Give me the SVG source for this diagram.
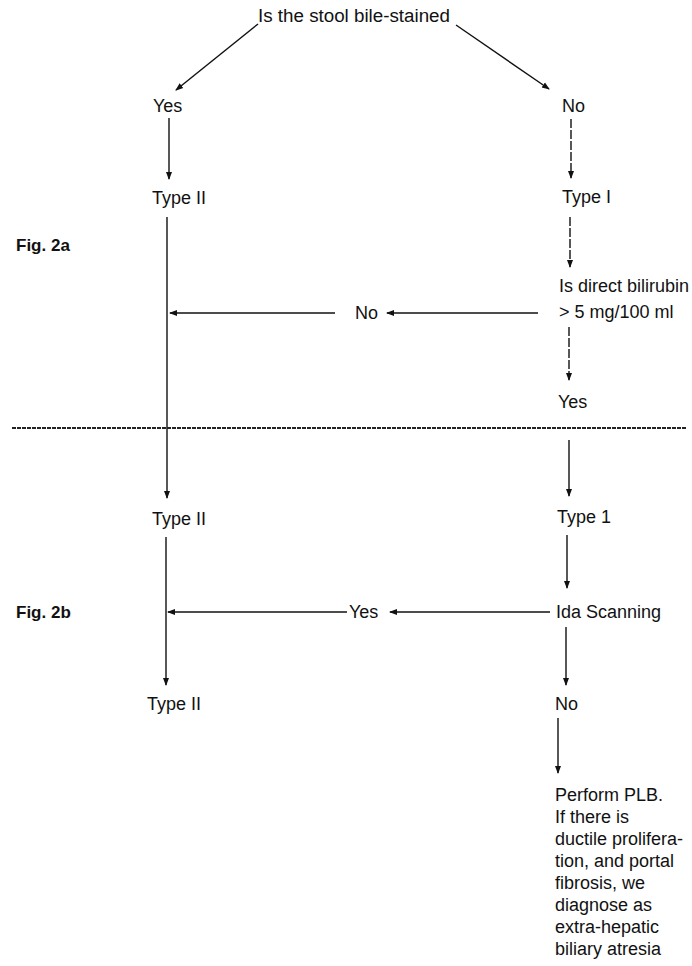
<svg xmlns="http://www.w3.org/2000/svg" width="692" height="966" viewBox="0 0 692 966">
<style>
text{font-family:"Liberation Sans",Arial,sans-serif;font-size:18px;fill:#111}
.fig{font-weight:bold;font-size:17px}
.c{stroke:#111;stroke-width:1.4;fill:none;marker-end:url(#ah)}
.d{stroke-dasharray:9 2}
.sep{stroke:#222;stroke-width:2.2;stroke-dasharray:4 1;fill:none}
</style>
<defs>
<marker id="ah" markerUnits="userSpaceOnUse" markerWidth="8" markerHeight="8" viewBox="0 0 8 8" refX="7" refY="4" orient="auto">
<path d="M0,1 L8,4 L0,7 Z" fill="#111"/>
</marker>
</defs>
<rect width="692" height="966" fill="#fff"/>
<g id="connectors">
<path class="c" d="M258,24 L176,90"/>
<path class="c" d="M456,25 L549,89"/>
<path class="c" d="M169,118 L169,179"/>
<path class="c d" d="M571,119 L571,178"/>
<path class="c d" d="M570,217 L570,267"/>
<path class="c" d="M538,313 L387,313"/>
<path class="c" d="M335,313 L170,313"/>
<path class="c" d="M167,217 L167,498"/>
<path class="c d" d="M569,327 L569,380"/>
<path class="c" d="M569,440 L569,496"/>
<path class="c" d="M567,535 L567,588"/>
<path class="c" d="M550,612 L390,612"/>
<path class="c" d="M347,612 L168,612"/>
<path class="c" d="M166,537 L166,685"/>
<path class="c" d="M566,627 L566,685"/>
<path class="c" d="M558,718 L558,773"/>
<path class="sep" d="M12,428 L686,428"/>
</g>
<g id="q1"><text x="258" y="22" textLength="192" lengthAdjust="spacingAndGlyphs">Is the stool bile-stained</text></g>
<g id="yes1"><text x="153" y="112">Yes</text></g>
<g id="no1"><text x="562" y="112">No</text></g>
<g id="type2a"><text x="152" y="204">Type II</text></g>
<g id="type1a"><text x="562" y="203">Type I</text></g>
<g id="fig2a"><text class="fig" x="16" y="251">Fig. 2a</text></g>
<g id="q2"><text x="559" y="292">Is direct bilirubin</text><text x="559" y="318">&gt; 5 mg/100 ml</text></g>
<g id="no2"><text x="355" y="319">No</text></g>
<g id="yes2"><text x="558" y="408">Yes</text></g>
<g id="type2b"><text x="152" y="525">Type II</text></g>
<g id="type1b"><text x="557" y="523">Type 1</text></g>
<g id="ida"><text x="556" y="618">Ida Scanning</text></g>
<g id="yes3"><text x="349" y="618">Yes</text></g>
<g id="fig2b"><text class="fig" x="16" y="618">Fig. 2b</text></g>
<g id="type2c"><text x="147" y="710">Type II</text></g>
<g id="no3"><text x="555" y="710">No</text></g>
<g id="plb">
<text x="555" y="801">Perform PLB.</text>
<text x="555" y="823">If there is</text>
<text x="555" y="845">ductile prolifera-</text>
<text x="555" y="867">tion, and portal</text>
<text x="555" y="889">fibrosis, we</text>
<text x="555" y="911">diagnose as</text>
<text x="555" y="933">extra-hepatic</text>
<text x="555" y="955">biliary atresia</text>
</g>
</svg>
